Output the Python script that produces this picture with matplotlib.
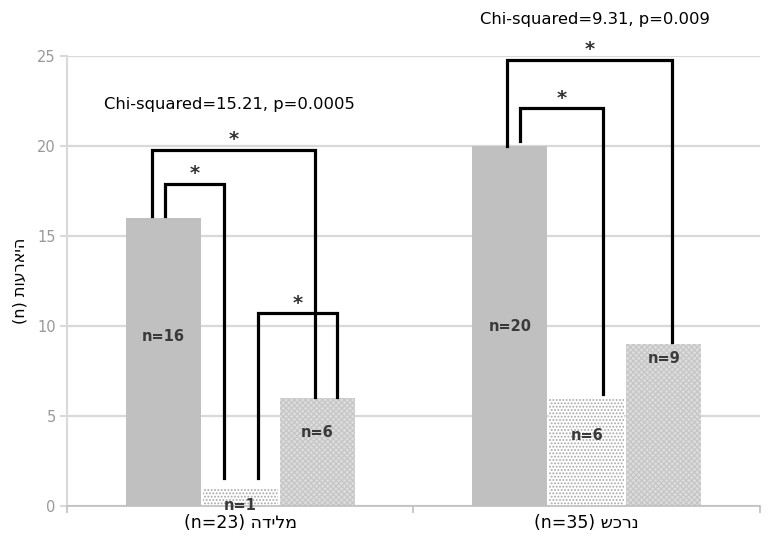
# Grouped bar chart with significance brackets
import matplotlib.pyplot as plt
import numpy as np

plt.rcParams['font.family'] = ['DejaVu Sans']
plt.rcParams['hatch.linewidth'] = 0.9

# Data
groups = ["(n=23) הדילמ", "(n=35) שכרנ"]  # visual order of "מלידה (n=23)", "נרכש (n=35)"
series_1 = [16, 20]
series_2 = [1, 6]
series_3 = [6, 9]
y_label = "(n) תועראיה"  # visual order of "היארעות (n)"
chi_texts = ["Chi-squared=15.21, p=0.0005", "Chi-squared=9.31, p=0.009"]

# Brackets: (x left, x right, left bottom, top, right bottom)
brackets = [
    (-0.255, 0.216, 16.1, 19.8, 6.05),
    (-0.217, -0.047, 16.1, 17.9, 1.55),
    (0.051, 0.279, 1.55, 10.7, 6.05),
    (0.770, 1.246, 20.0, 24.8, 9.1),
    (0.807, 1.047, 20.3, 22.1, 6.2),
]

fig = plt.figure(figsize=(7.68, 5.38), dpi=100)
ax = fig.add_axes([0.0872, 0.0595, 0.9024, 0.8364])

x = np.arange(len(groups))
w = 0.217
off = 0.222

b1 = ax.bar(x - off, series_1, w, color='#c0c0c0', linewidth=0, zorder=2)
b2 = ax.bar(x, series_2, w, facecolor='white', edgecolor='#a9a9a9',
            hatch='.....', linewidth=0, zorder=2)
b3 = ax.bar(x + off, series_3, w, facecolor='#dddddd', edgecolor='#c6c6c6',
            hatch='xxxxxx', linewidth=0, zorder=2)

# value labels inside the bars
label_y = [[9.4, 9.95], [0.05, 3.9], [4.1, 8.2]]
for k, (bars, vals) in enumerate([(b1, series_1), (b2, series_2), (b3, series_3)]):
    for i, rect in enumerate(bars):
        ax.text(rect.get_x() + rect.get_width() / 2, label_y[k][i], f"n={vals[i]}",
                ha='center', va='center', fontsize=10.5, fontweight='bold',
                color='#3a3a3a', zorder=4)

# significance brackets
for xl, xr, yl, yt, yr in brackets:
    ax.plot([xl, xl, xr, xr], [yl, yt, yt, yr], color='black', lw=2.3,
            solid_joinstyle='miter', clip_on=False, zorder=3)
    ax.text((xl + xr) / 2, yt + 0.55, "*", ha='center', va='center',
            fontsize=14, fontweight='bold', color='#333333', clip_on=False)

ax.text(-0.03, 22.3, chi_texts[0], ha='center', va='center', fontsize=11.8)
ax.text(1.024, 27.05, chi_texts[1], ha='center', va='center', fontsize=11.8)

ax.set_xlim(-0.5, 1.5)
ax.set_ylim(0, 25)
ax.set_yticks(range(0, 26, 5))
ax.set_xticks(x)
ax.set_xticklabels(groups, fontsize=12.5)
ax.set_xticks([-0.5, 0.5, 1.5], minor=True)
ax.tick_params(axis='x', which='major', length=0, pad=6)
ax.tick_params(axis='x', which='minor', length=5, color='#bfbfbf', width=1.2)
ax.tick_params(axis='y', length=5, color='#d9d9d9', width=1.5,
               labelcolor='#999999', labelsize=10.5, pad=3)
ax.grid(axis='y', color='#d9d9d9', lw=1.6, zorder=0)
ax.set_axisbelow(True)

for s in ['top', 'right']:
    ax.spines[s].set_visible(False)
ax.spines['left'].set_color('#d9d9d9')
ax.spines['left'].set_linewidth(1.5)
ax.spines['bottom'].set_color('#bfbfbf')
ax.spines['bottom'].set_linewidth(1.2)

ax.set_ylabel(y_label, fontsize=11.5, labelpad=7)

fig.savefig('out.png', dpi=100)
